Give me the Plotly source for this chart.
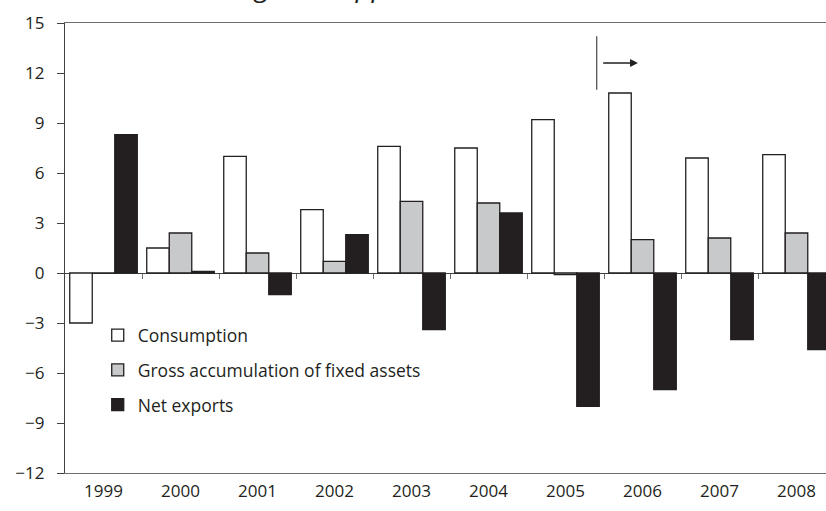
import plotly.graph_objects as go

years = ["1999", "2000", "2001", "2002", "2003", "2004", "2005", "2006", "2007", "2008"]
consumption = [-3.0, 1.5, 7.0, 3.8, 7.6, 7.5, 9.2, 10.8, 6.9, 7.1]
gross_fixed = [0.0, 2.4, 1.2, 0.7, 4.3, 4.2, -0.1, 2.0, 2.1, 2.4]
net_exports = [8.3, 0.1, -1.3, 2.3, -3.4, 3.6, -8.0, -7.0, -4.0, -4.6]
y_ticks = [-12, -9, -6, -3, 0, 3, 6, 9, 12, 15]

FONT = "Open Sans"
DARK = "#231f20"

fig = go.Figure()
fig.add_trace(go.Bar(x=years, y=consumption, name="Consumption", legendgroup="a",
                     marker=dict(color="#ffffff", line=dict(color=DARK, width=1.3))))
fig.add_trace(go.Bar(x=years, y=gross_fixed, name="Gross accumulation of fixed assets", legendgroup="b",
                     marker=dict(color="#c8c9cb", line=dict(color=DARK, width=1.3))))
fig.add_trace(go.Bar(x=years, y=net_exports, name="Net exports", legendgroup="c",
                     marker=dict(color=DARK, line=dict(color=DARK, width=1.3))))
# invisible helper so the category-boundary tick axis on the zero line is drawn
fig.add_trace(go.Scatter(x=list(range(len(years))), y=consumption, xaxis="x2", mode="markers",
                         marker=dict(opacity=0), showlegend=False, hoverinfo="skip"))

# separator marker and arrow
fig.add_shape(type="line", x0=6.405, x1=6.405, y0=11.0, y1=14.2, xref="x", yref="y",
              line=dict(color="#555555", width=1.3))
fig.add_annotation(x=6.94, y=12.6, ax=6.47, ay=12.6, xref="x", yref="y", axref="x", ayref="y",
                   text="", showarrow=True, arrowhead=2, arrowsize=1.2, arrowwidth=1.3,
                   arrowcolor=DARK)

# cropped title at top
fig.add_annotation(text="Contributions to GDP growth, pp", xref="paper", yref="paper",
                   x=0.427, y=1, xanchor="right", yanchor="bottom", yshift=17,
                   showarrow=False, font=dict(family=FONT, size=28, color=DARK, style="italic"))

fig.update_layout(
    width=826, height=511,
    margin=dict(l=65, r=0, t=23, b=38, autoexpand=False),
    paper_bgcolor="white", plot_bgcolor="white",
    barmode="group", bargap=0.123, bargroupgap=0,
    font=dict(family=FONT, size=17, color=DARK),
    showlegend=True,
    legend=dict(x=0.043, y=0.346, xanchor="left", yanchor="top", bgcolor="rgba(0,0,0,0)",
                font=dict(family=FONT, size=17.5, color=DARK), tracegroupgap=9),
    xaxis=dict(type="category", range=[-0.5, 9.383], showgrid=False, showline=True,
               mirror=True, linecolor="#6d6e71", linewidth=1.3, ticks="", automargin=False,
               ticklabelstandoff=2, tickfont=dict(family=FONT, size=17, color=DARK)),
    xaxis2=dict(overlaying="x", anchor="free", position=12 / 27, range=[-0.5, 9.383],
                tickvals=[i + 0.5 for i in range(len(years) - 1)], ticks="outside",
                ticklen=5, tickcolor="#6d6e71", tickwidth=1.3, showticklabels=False,
                showgrid=False, showline=False, zeroline=False, automargin=False),
    yaxis=dict(range=[-12, 15], tickvals=y_ticks, showgrid=False, showline=True,
               linecolor="#414042", linewidth=1.3, ticks="outside", ticklen=7, automargin=False,
               ticklabelstandoff=9,
               tickcolor="#414042", zeroline=True, zerolinecolor="#414042", zerolinewidth=1.3,
               tickfont=dict(family=FONT, size=17, color=DARK)),
)

fig.write_html("out.html", config={"displayModeBar": False},
               post_script="document.body.style.margin='0';document.body.style.overflow='hidden';")
